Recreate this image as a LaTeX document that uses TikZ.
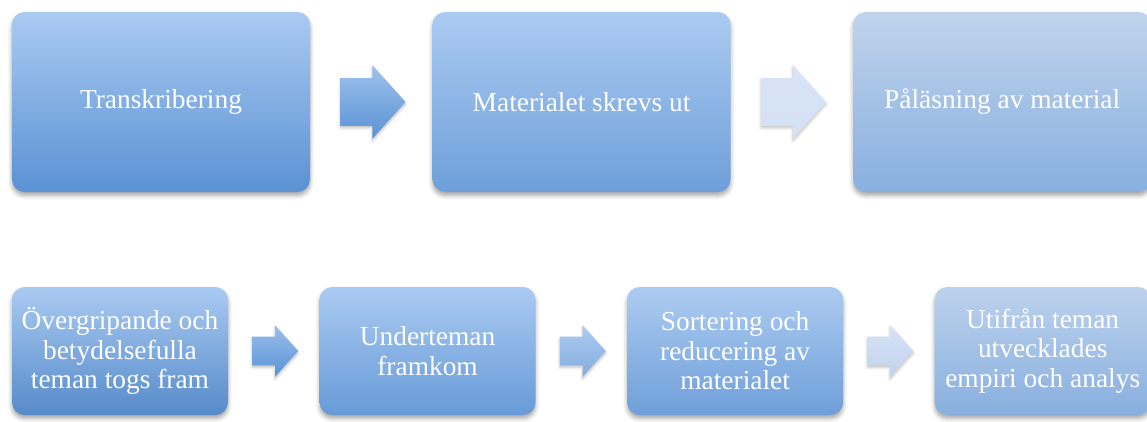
\documentclass[tikz,border=0pt]{standalone}
\usepackage{fontspec}
\setmainfont{Liberation Serif}
\definecolor{skytop}{RGB}{170,202,242}
\definecolor{deepbot}{RGB}{90,146,212}
\definecolor{mistblue}{RGB}{192,211,236}
\definecolor{paleblue}{RGB}{216,227,246}
\usepackage{tikz}
\usetikzlibrary{shapes.arrows, positioning, calc, shadows.blur}
\tikzset{
  stage/.style={rectangle, rounded corners=9pt, draw=none,
    text=white, font=\fontsize{19.5}{21}\selectfont, align=center,
    inner sep=2pt, blur shadow={shadow xshift=0pt, shadow yshift=-2.5pt,
    shadow blur radius=3pt, shadow opacity=35}},
  bigstage/.style={stage, minimum width=7.45cm, minimum height=4.5cm},
  smallstage/.style={stage, minimum width=5.4cm, minimum height=3.2cm},
  flowarrow/.style={single arrow, draw=none, inner xsep=0pt,
    single arrow tip angle=96, single arrow head indent=0pt,
    blur shadow={shadow xshift=0pt, shadow yshift=-1.5pt,
    shadow blur radius=2pt, shadow opacity=25}},
  bigarrow/.style={flowarrow, minimum height=1.625cm, inner ysep=0.5875cm,
    single arrow head extend=0.325cm, xshift=-0.225cm},
  smallarrow/.style={flowarrow, minimum height=1.15cm, inner ysep=0.35cm,
    single arrow head extend=0.2875cm, xshift=-0.125cm},
}

\begin{document}
\begin{tikzpicture}
  \useasboundingbox (0,0) rectangle (28.675,-10.525);
  % top row
  \node[bigstage, top color=skytop, bottom color=deepbot] (t1) at (4.025,-2.55) {Transkribering};
  \node[bigstage, top color=skytop!95!mistblue, bottom color=deepbot!88!white, right=3.05cm of t1] (t2) {Materialet skrevs ut};
  \node[bigstage, top color=mistblue, bottom color=deepbot!55!mistblue, right=3.05cm of t2] (t3) {Påläsning av material};
  \node[bigarrow, top color=skytop!85!deepbot, bottom color=deepbot] (a1) at ($(t1.east)!0.5!(t2.west)$) {};
  \node[bigarrow, top color=paleblue, bottom color=paleblue!85!mistblue] (a2) at ($(t2.east)!0.5!(t3.west)$) {};
  % bottom row
  \node[smallstage, top color=skytop, bottom color=deepbot!95!black] (b1) at (3.0,-8.775) {Övergripande och\\betydelsefulla\\teman togs fram};
  \node[smallstage, top color=skytop, bottom color=deepbot!92!white, right=2.275cm of b1] (b2) {Underteman\\framkom};
  \node[smallstage, top color=skytop!85!mistblue, bottom color=deepbot!80!mistblue, right=2.275cm of b2] (b3) {Sortering och\\reducering av\\materialet};
  \node[smallstage, top color=mistblue!85!skytop, bottom color=deepbot!55!mistblue, right=2.275cm of b3] (b4) {Utifrån teman\\utvecklades\\empiri och analys};
  \node[smallarrow, top color=skytop!80!deepbot, bottom color=deepbot] (c1) at ($(b1.east)!0.5!(b2.west)$) {};
  \node[smallarrow, top color=skytop!90!mistblue, bottom color=deepbot!60!mistblue] (c2) at ($(b2.east)!0.5!(b3.west)$) {};
  \node[smallarrow, top color=paleblue, bottom color=mistblue] (c3) at ($(b3.east)!0.5!(b4.west)$) {};
\end{tikzpicture}
\end{document}
